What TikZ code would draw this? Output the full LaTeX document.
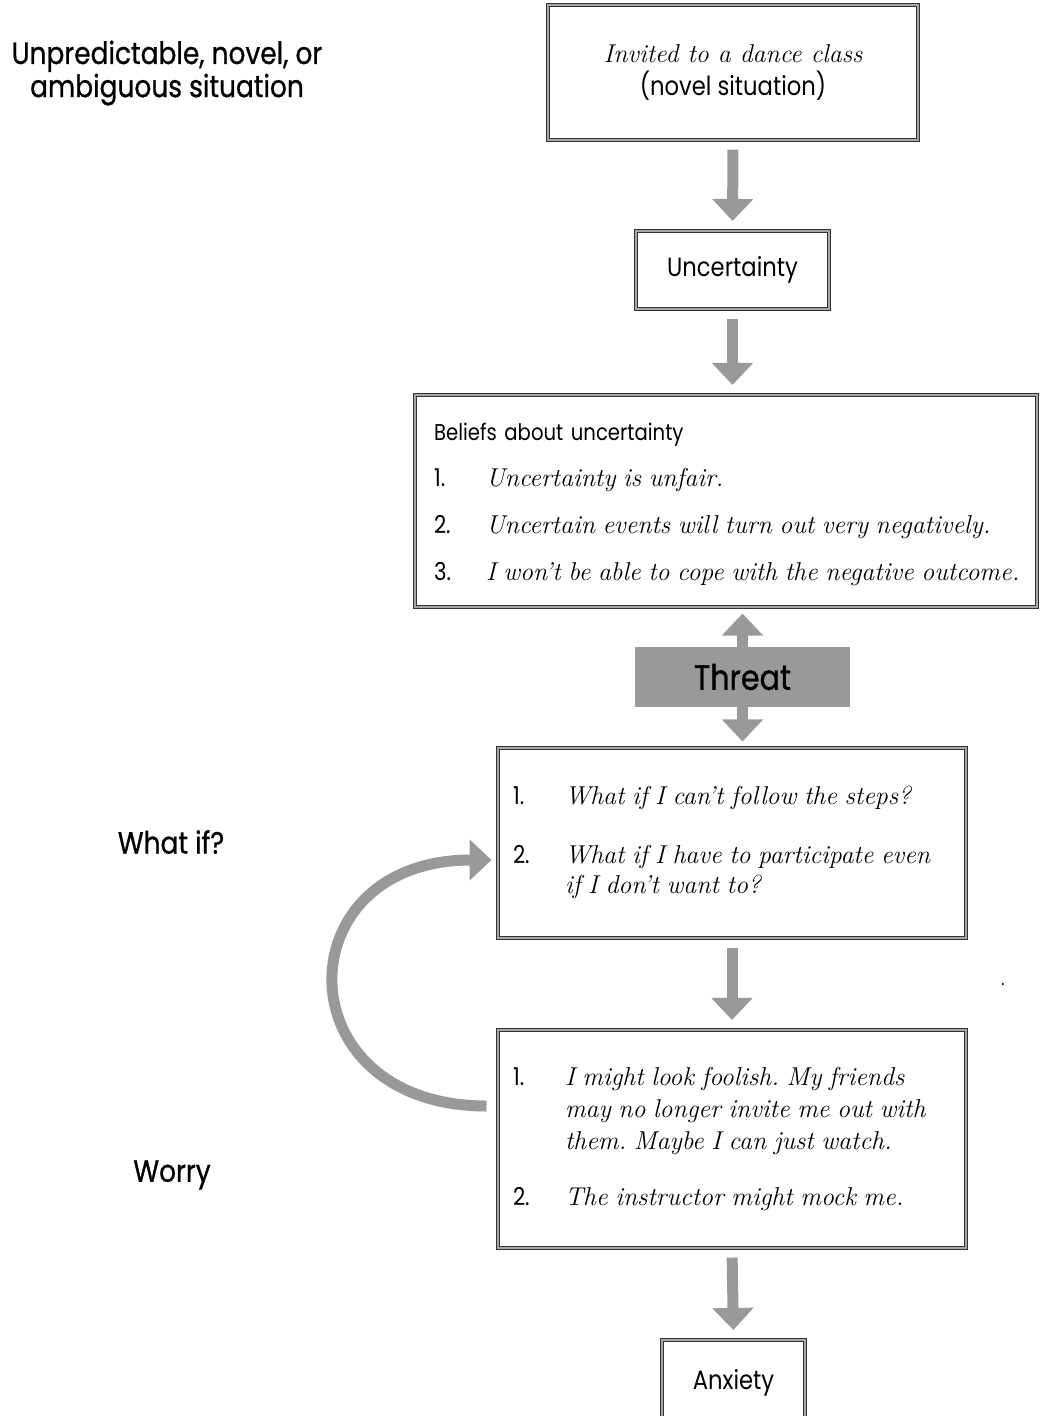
\documentclass[tikz,border=0pt]{standalone}
\usepackage{fontspec}
\newfontfamily\futu{Poppins}[FakeStretch=0.86]
\newfontfamily\futum{Poppins}[FakeStretch=0.86,FakeBold=0.8]
\usetikzlibrary{arrows.meta,positioning,calc}
\definecolor{arrowgray}{RGB}{153,153,153}
\newcommand{\itm}[1]{{\fontsize{14.7}{16}\selectfont\rmfamily\itshape\frenchspacing #1}}
\newcommand{\num}[1]{{\fontsize{14}{16}\selectfont #1}}

\begin{document}
\begin{tikzpicture}[x=0.02cm,y=-0.02cm,
 dbox/.style={draw=black!80,line width=0.022cm,double=black!35,double distance=0.04cm,fill=white},
 bigarrow/.style={draw=arrowgray,line width=0.22cm,-{Triangle[width=0.8cm,length=0.44cm]},shorten <=0.18cm,shorten >=0.19cm},
 side/.style={font=\futum\fontsize{17.5}{17.6}\selectfont,align=center}]
\useasboundingbox (0,0) rectangle (1039,1416);
% left column
\node[side] (lsit) at (167,73) {Unpredictable, novel, or\\ambiguous situation};
\node[side] (lwif) at (171,842) {What if?};
\node[side] (lwor) at (172,1175) {Worry};
% boxes
\node[dbox,minimum width=7.4cm,minimum height=2.7cm,align=center,font=\futu\fontsize{15}{18.8}\selectfont] (sit) at (733,72.5) {\itm{Invited to a dance class}\\(novel situation)};
\node[dbox,minimum width=3.86cm,minimum height=1.56cm,font=\futu\fontsize{15}{18}\selectfont] (unc) at (732.5,270) {Uncertainty};
\node[dbox,minimum width=12.44cm,minimum height=4.24cm,inner xsep=0.38cm,text width=11.68cm,align=left,font=\futu\fontsize{13}{26.7}\selectfont] (bel) at (726,501) {%
\begin{tabular}{@{}p{29.6pt}@{}l@{}}
\multicolumn{2}{@{}l@{}}{Beliefs about uncertainty}\\
\num{1.} & \itm{Uncertainty is unfair.}\\
\num{2.} & \itm{Uncertain events will turn out very negatively.}\\
\num{3.} & \itm{I won't be able to cope with the negative outcome.}
\end{tabular}};
\node[fill=arrowgray,minimum width=4.3cm,minimum height=1.2cm,font=\futum\fontsize{20}{20}\selectfont] (thr) at (742.5,677) {Threat};
\node[dbox,minimum width=9.36cm,minimum height=3.8cm,inner xsep=0.3cm,text width=8.76cm,align=left,font=\futu\fontsize{13}{17.5}\selectfont] (wif) at (732,843) {%
\begin{tabular}{@{}p{29.6pt}@{}l@{}}
\num{1.} & \itm{What if I can't follow the steps?}\\[16pt]
\num{2.} & \itm{What if I have to participate even}\\
 & \itm{if I don't want to?}
\end{tabular}};
\node[dbox,minimum width=9.36cm,minimum height=4.36cm,inner xsep=0.3cm,text width=8.76cm,align=left,font=\futu\fontsize{13}{18.2}\selectfont] (wor) at (732,1139) {%
\begin{tabular}{@{}p{29.6pt}@{}l@{}}
\num{1.} & \itm{I might look foolish. My friends}\\
 & \itm{may no longer invite me out with}\\
 & \itm{them. Maybe I can just watch.}\\[13.7pt]
\num{2.} & \itm{The instructor might mock me.}
\end{tabular}};
\node[dbox,minimum width=2.86cm,minimum height=1.72cm,font=\futu\fontsize{15}{18}\selectfont] (anx) at (733.5,1383) {Anxiety};
\node[inner sep=0pt,font=\futu\fontsize{10}{12}\selectfont] (dot) at (1003,985) {.};
% arrows
\draw[bigarrow] (sit.south) -- (unc.north);
\draw[bigarrow] (unc.south) -- (unc.south |- bel.north);
\draw[bigarrow,shorten <=0pt,shorten >=0.12cm] (thr.north) -- (thr.north |- bel.south);
\draw[bigarrow,shorten <=0pt,shorten >=0.12cm] (thr.south) -- (thr.south |- wif.north);
\draw[bigarrow] (wif.south) -- (wor.north);
\draw[bigarrow] (wor.south) -- (anx.north);
% loop back
\coordinate (loopS) at ($(wor.west)+(-11,-33)$);
\coordinate (loopE) at ($(wif.west)+(-6,17)$);
\draw[bigarrow,shorten <=0pt,shorten >=0pt] (loopS) .. controls (283,1106) and (283,860) .. (loopE);
\end{tikzpicture}
\end{document}
